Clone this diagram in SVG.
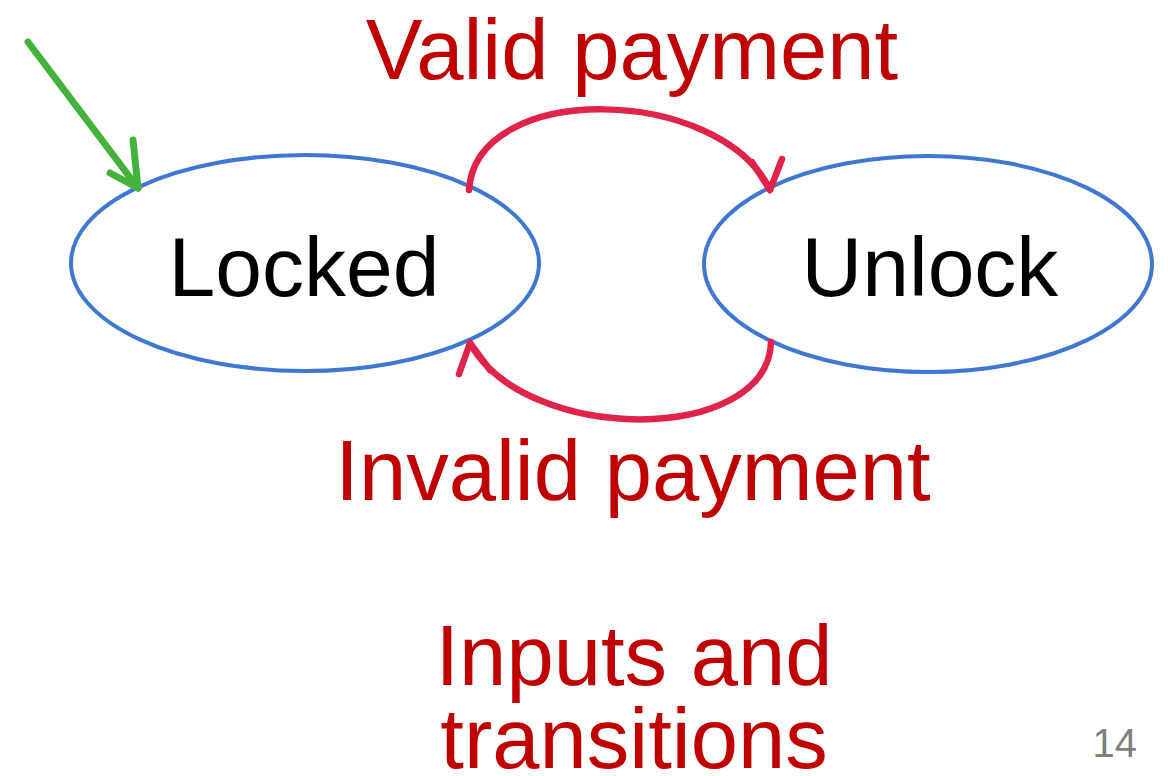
<svg xmlns="http://www.w3.org/2000/svg" width="1168" height="776" viewBox="0 0 1168 776">
  <style>
    .state { fill: #ffffff; stroke: #3f78d2; stroke-width: 4; }
    .label { font-family: "Liberation Sans", Arial, sans-serif; font-size: 84px; text-anchor: middle; }
    .red-label { fill: #c00000; font-size: 85px; }
    .state-label { fill: #000000; }
    .edge { fill: none; stroke: #e0234a; stroke-width: 6.5; stroke-linecap: round; stroke-linejoin: round; }
    .start { fill: none; stroke: #44b33c; stroke-width: 7; stroke-linecap: round; stroke-linejoin: round; }
    .page { font-family: "Liberation Sans", Arial, sans-serif; font-size: 40px; fill: #808080; text-anchor: end; }
  </style>
  <rect width="1168" height="776" fill="#ffffff"/>

  <g id="locked">
    <ellipse class="state" cx="305" cy="263" rx="234" ry="108"/>
    <text class="label state-label" x="304" y="296">Locked</text>
  </g>

  <g id="unlock">
    <ellipse class="state" cx="928" cy="264" rx="224" ry="108"/>
    <text class="label state-label" x="930" y="296">Unlock</text>
  </g>

  <g id="connectors">
    <!-- initial-state arrow -->
    <path class="start" d="M28,42 L138,188"/>
    <path class="start" d="M110,173 L138,188 L133,140"/>
    <!-- Locked -> Unlock -->
    <path class="edge" d="M469,190 C476,80 720,85 770,190"/>
    <path class="edge" d="M752,162 L770,190 L782,159"/>
    <!-- Unlock -> Locked -->
    <path class="edge" d="M771,342 C768,445 525,445 470,343"/>
    <path class="edge" d="M459,374 L470,343 L490,370"/>
  </g>

  <g id="labels">
    <text class="label red-label" x="632" y="79">Valid payment</text>
    <text class="label red-label" x="633" y="500">Invalid payment</text>
    <text class="label red-label" x="634" y="685">Inputs and</text>
    <text class="label red-label" x="634" y="768">transitions</text>
  </g>

  <text class="page" x="1137" y="757">14</text>
</svg>
